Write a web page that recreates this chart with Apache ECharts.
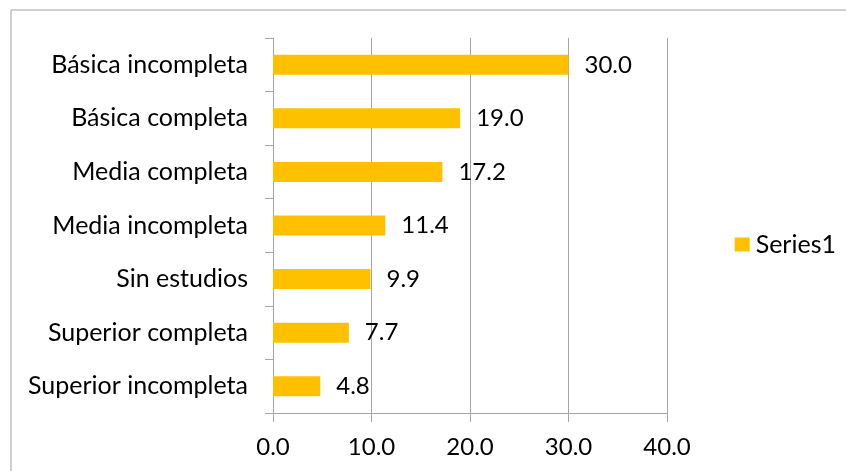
<!DOCTYPE html>
<html>
<head>
<meta charset="utf-8">
<script src="https://cdn.jsdelivr.net/npm/echarts@6/dist/echarts.min.js"></script>
<style>
  html, body { margin: 0; padding: 0; background: #fff; }
  #chart { width: 846px; height: 471px; }
</style>
</head>
<body>
<div id="chart"></div>
<script>
// Education level categories, listed bottom to top along the category axis
const categories = [
  'Superior incompleta',
  'Superior completa',
  'Sin estudios',
  'Media incompleta',
  'Media completa',
  'Básica completa',
  'Básica incompleta'
];
const values = [4.8, 7.7, 9.9, 11.4, 17.2, 19.0, 30.0];
const seriesName = 'Series1';
const xMin = 0, xMax = 40, xStep = 10;

const FONT = 'Lato';
const AXIS_GRAY = '#a6a6a6';

const chart = echarts.init(document.getElementById('chart'), null, { renderer: 'canvas' });
chart.setOption({
  animation: false,
  textStyle: { fontFamily: FONT },
  graphic: [{
    type: 'rect',
    shape: { x: 11, y: 10, width: 900, height: 600 },
    style: { fill: 'none', stroke: '#a0a0a0', lineWidth: 1 },
    silent: true
  }],
  grid: { left: 273, right: 179, top: 38, bottom: 58, containLabel: false },
  legend: {
    data: [seriesName],
    right: 10,
    top: 232,
    padding: 0,
    orient: 'vertical',
    icon: 'rect',
    itemWidth: 15,
    itemHeight: 14,
    itemGap: 6,
    textStyle: { fontFamily: FONT, fontSize: 25, color: '#000', padding: [0, 0, 0, 1] }
  },
  xAxis: {
    type: 'value',
    min: xMin,
    max: xMax,
    interval: xStep,
    axisLine: { show: true, lineStyle: { color: AXIS_GRAY, width: 1 } },
    axisTick: { show: true, length: 9, lineStyle: { color: AXIS_GRAY } },
    splitLine: { show: true, lineStyle: { color: AXIS_GRAY, width: 1 } },
    axisLabel: {
      margin: 22,
      fontSize: 24,
      color: '#000',
      fontFamily: FONT,
      formatter: v => v.toFixed(1)
    }
  },
  yAxis: {
    type: 'category',
    data: categories,
    axisLine: { show: true, lineStyle: { color: AXIS_GRAY, width: 1 } },
    axisTick: { show: true, length: 8, lineStyle: { color: AXIS_GRAY } },
    axisLabel: { margin: 25, fontSize: 25, color: '#000', fontFamily: FONT, padding: [3, 0, 0, 0] },
    splitLine: { show: false }
  },
  series: [{
    name: seriesName,
    type: 'bar',
    data: values,
    barWidth: 20,
    itemStyle: { color: '#FFC000' },
    label: {
      show: true,
      position: 'right',
      distance: 16,
      fontSize: 24,
      color: '#000',
      fontFamily: FONT,
      padding: [3, 0, 0, 0],
      formatter: p => p.value.toFixed(1)
    }
  }]
});
</script>
</body>
</html>
